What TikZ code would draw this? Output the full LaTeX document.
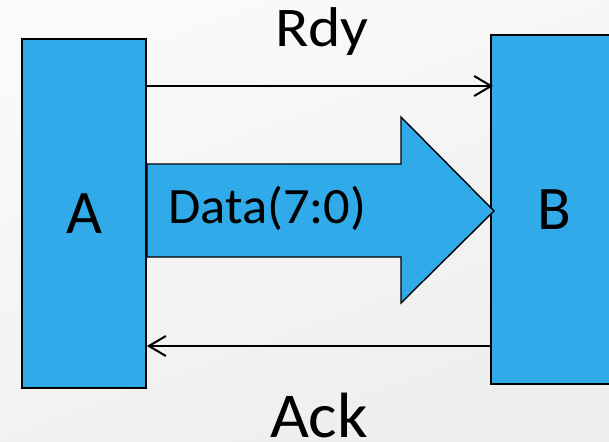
\documentclass[tikz,border=0pt]{standalone}
\usepackage{fontspec}
\setmainfont{Carlito}
\usetikzlibrary{arrows.meta}
\definecolor{blockblue}{RGB}{48,170,232}
\definecolor{bgtop}{RGB}{250,250,250}
\definecolor{bgbottom}{RGB}{238,238,238}
\tikzset{
  block/.style={draw=black, line width=1.8pt, fill=blockblue, inner sep=0pt,
    font=\fontsize{62}{62}\selectfont},
  sig/.style={draw=black, line width=2pt,
    -{Straight Barb[length=17pt,width=20pt,line width=2pt]}},
  bus/.style={draw=black, line width=1.4pt, fill=blockblue, line join=miter},
  lbl/.style={inner sep=0pt, anchor=base}
}
\begin{document}
\begin{tikzpicture}[x=1pt,y=-1pt]
  % background with a soft grey gradient
  \shade[top color=bgtop, bottom color=bgbottom, shading angle=20]
    (0,0) rectangle (609,441);
  \useasboundingbox (0,0) rectangle (609,441);

  % the two blocks
  \node[block, minimum width=124pt, minimum height=349pt] (A) at (84,213.5) {A};
  \begin{scope}
    \clip (0,0) rectangle (609,441);
    \node[block, minimum width=127pt, minimum height=349pt] (B) at (554.5,209.5) {B};
  \end{scope}

  % wide data bus arrow
  \draw[bus] (147,164) -- (401,164) -- (401,117) -- (494,211)
             -- (401,303) -- (401,257) -- (147,257) -- cycle;
  \node[lbl, anchor=base west, xscale=1.03, font=\fontsize{51}{51}\selectfont] (data) at (168,223) {Data(7:0)};

  % handshake lines
  \coordinate (rdy) at (0,86);
  \coordinate (ack) at (0,346);
  \draw[sig, shorten >=-3pt] (A.east |- rdy) -- (B.west |- rdy);
  \draw[sig] (B.west |- ack) -- (A.east |- ack);

  \node[lbl, xscale=1.1, font=\fontsize{56}{56}\selectfont] (rdylbl) at (322,47) {Rdy};
  \node[lbl, xscale=1.05, font=\fontsize{64}{64}\selectfont] (acklbl) at (319,437) {Ack};
\end{tikzpicture}
\end{document}
